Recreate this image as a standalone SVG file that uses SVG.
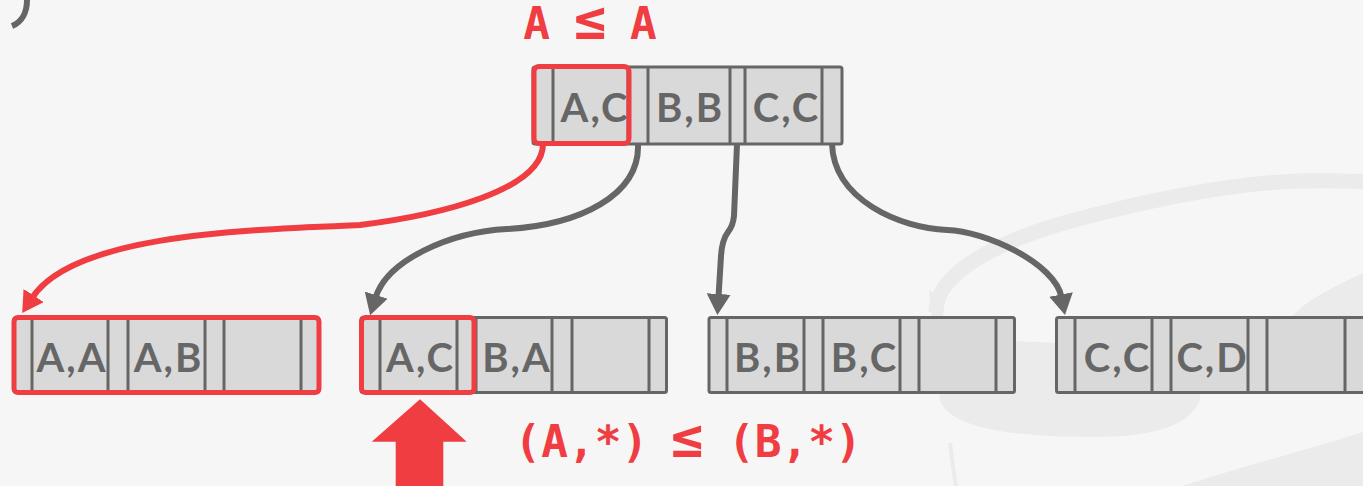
<svg xmlns="http://www.w3.org/2000/svg" width="1363" height="486" viewBox="0 0 1363 486">
<style>
.bg{fill:#F6F6F6}
.wm{fill:#EBEBEB}
.wms{fill:none;stroke:#EBEBEB;stroke-width:15}
.slot{fill:#D9D9D9;stroke:#666666;stroke-width:3}
.div{fill:none;stroke:#666666;stroke-width:3}
.key{font-family:Lato,"Liberation Sans",sans-serif;font-weight:bold;font-size:40px;letter-spacing:2px;fill:#666666;text-anchor:middle}
.hl{fill:none;stroke:#EF3D42;stroke-width:5}
.red{font-family:"DejaVu Sans Mono","Liberation Mono",monospace;font-weight:bold;font-size:44.4px;fill:#EF3D42}
.le{font-size:54px}
.edge{fill:none;stroke:#666666;stroke-width:6}
.edge-red{fill:none;stroke:#EF3D42;stroke-width:6}
</style>
<defs>
<marker id="ag" viewBox="0 0 21 24" refX="3" refY="12" markerWidth="21" markerHeight="24" markerUnits="userSpaceOnUse" orient="auto">
<path d="M0,0 L21,12 L0,24 Z" fill="#666666"/>
</marker>
<marker id="ar" viewBox="0 0 21 24" refX="3" refY="12" markerWidth="21" markerHeight="24" markerUnits="userSpaceOnUse" orient="auto">
<path d="M0,0 L21,12 L0,24 Z" fill="#EF3D42"/>
</marker>
</defs>
<rect class="bg" x="0" y="0" width="1363" height="486"/>
<g id="watermark">
<path class="wm" d="M929,290 L940,400 C948,425 1000,437 1090,437 C1150,437 1188,428 1200,400 L1200,345 C1100,345 1000,342 950,336 C944,333 943,320 943,300 Z"/>
<path class="wms" d="M936,312 C936,272 1000,242 1060,224 C1140,202 1230,183 1300,181 C1330,180 1350,181 1375,182"/>
<path class="wm" d="M1290,320 C1300,305 1320,293 1363,273 L1363,320 Z"/>
<path class="wm" d="M1183,486 C1230,470 1300,452 1363,432 L1363,486 Z"/>
<path d="M950,443 C952,460 954,475 956,486" fill="none" stroke="#EBEBEB" stroke-width="4"/>
</g>
<path d="M27,0 C27,12 22,22 12,26" fill="none" stroke="#666666" stroke-width="6"/>
<g id="connectors">
<path class="edge-red" marker-end="url(#ar)" d="M543,144 C543,190 440,215 360,225 C240,230 73,235 32,298"/>
<path class="edge" marker-end="url(#ag)" d="M638,144 C640,195 580,225 507,229 C450,232 387,260 375.4,298"/>
<path class="edge" marker-end="url(#ag)" d="M737,144 L734,216 Q733,226 728,232 Q722,240 721,256 L718.5,297"/>
<path class="edge" marker-end="url(#ag)" d="M832,144 C834,200 900,228 947,230 C985,231 1055,263 1061.6,297.4"/>
</g>
<g id="root">
<rect class="slot" x="533" y="67" width="309" height="77" rx="2"/>
<path class="div" d="M553,67V144M628,67V144M648,67V144M730,67V144M745,67V144M822,67V144"/>
<text class="key" x="595" y="122">A,C</text>
<text class="key" x="690" y="122">B,B</text>
<text class="key" x="786.5" y="122">C,C</text>
<rect class="hl" x="534" y="66.5" width="95" height="77" rx="5"/>
</g>
<g id="leaf1">
<rect class="slot" x="14" y="317.5" width="305" height="75" rx="2"/>
<path class="div" d="M32,317.5V392.5M108,317.5V392.5M128,317.5V392.5M205,317.5V392.5M224,317.5V392.5M301,317.5V392.5"/>
<text class="key" x="72" y="372">A,A</text>
<text class="key" x="168.5" y="372">A,B</text>
<rect class="hl" x="14" y="317.5" width="305" height="75" rx="4"/>
</g>
<g id="leaf2">
<rect class="slot" x="361" y="317.5" width="305.5" height="75" rx="2"/>
<path class="div" d="M380,317.5V392.5M457,317.5V392.5M476,317.5V392.5M552,317.5V392.5M572,317.5V392.5M649,317.5V392.5"/>
<text class="key" x="420.5" y="372">A,C</text>
<text class="key" x="517" y="372">B,A</text>
<rect class="hl" x="361.5" y="317.5" width="112.5" height="75" rx="4"/>
</g>
<g id="leaf3">
<rect class="slot" x="709" y="317.5" width="305.5" height="75" rx="2"/>
<path class="div" d="M727,317.5V392.5M804,317.5V392.5M823,317.5V392.5M900,317.5V392.5M919,317.5V392.5M996,317.5V392.5"/>
<text class="key" x="768" y="372">B,B</text>
<text class="key" x="864.5" y="372">B,C</text>
</g>
<g id="leaf4">
<rect class="slot" x="1056.5" y="317.5" width="310" height="75" rx="2"/>
<path class="div" d="M1075,317.5V392.5M1152,317.5V392.5M1171,317.5V392.5M1248,317.5V392.5M1267,317.5V392.5M1345,317.5V392.5"/>
<text class="key" x="1117.5" y="372">C,C</text>
<text class="key" x="1212.5" y="372">C,D</text>
</g>
<g id="labels">
<text class="red" x="523.2" y="39" xml:space="preserve">A <tspan class="le" x="574">≤</tspan><tspan x="603.3"> A</tspan></text>
<text class="red" x="514.5" y="457" xml:space="preserve">(A,*) <tspan class="le" x="671">≤</tspan><tspan x="701.3"> (B,*)</tspan></text>
</g>
<g id="pointer">
<polygon points="420,399.3 466.7,441.7 443.3,441.7 443.3,486 395.7,486 395.7,441.7 371.7,441.7" fill="#EF3D42"/>
</g>
</svg>
